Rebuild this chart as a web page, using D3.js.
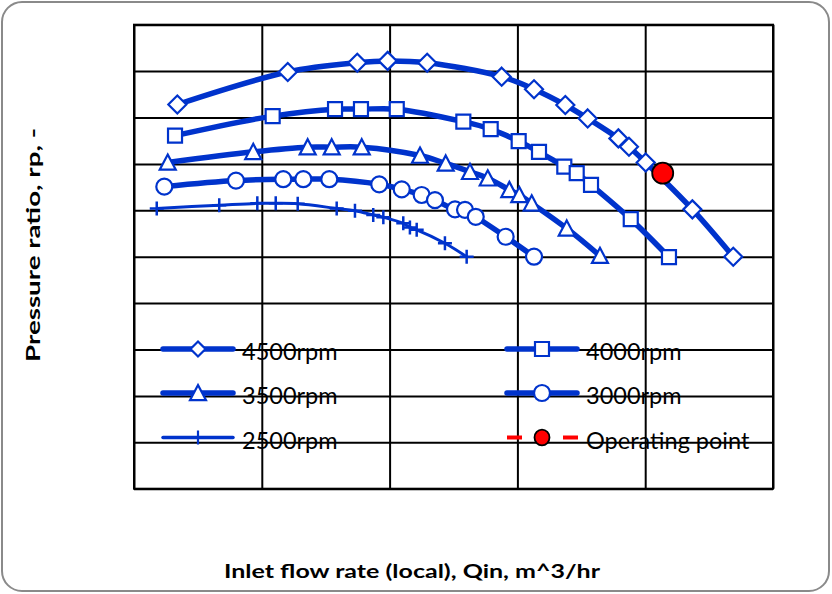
<!DOCTYPE html>
<html>
<head>
<meta charset="utf-8">
<script src="https://cdn.jsdelivr.net/npm/d3@7"></script>
<style>
  body { margin: 0; background: #fff; }
  svg { display: block; }
</style>
</head>
<body>
<div id="chart-area"></div>
<script>
// ---- data ----
const flow4500 = [33.9, 120.3, 174.7, 198.5, 229.4, 287.7, 313.0, 337.5, 355.0, 379.0, 387.3, 400.4, 436.9, 468.9];
const pr4500   = [1.828, 1.898, 1.918, 1.922, 1.918, 1.888, 1.861, 1.827, 1.798, 1.755, 1.737, 1.703, 1.602, 1.500];

const flow4000 = [32.1, 108.5, 157.3, 177.6, 205.6, 257.7, 279.1, 301.0, 316.9, 336.7, 346.4, 357.6, 388.7, 418.6];
const pr4000   = [1.761, 1.803, 1.818, 1.818, 1.818, 1.791, 1.775, 1.749, 1.726, 1.694, 1.680, 1.655, 1.581, 1.499];

const flow3500 = [26.4, 93.3, 135.9, 154.7, 178.2, 223.8, 243.9, 262.9, 276.8, 293.7, 301.5, 311.2, 338.6, 364.6];
const pr3500   = [1.703, 1.726, 1.736, 1.736, 1.736, 1.718, 1.701, 1.683, 1.669, 1.644, 1.633, 1.615, 1.561, 1.502];

const flow3000 = [23.7, 79.8, 116.8, 132.5, 152.8, 191.9, 209.5, 225.1, 235.5, 251.2, 259.0, 267.4, 290.8, 313.0];
const pr3000   = [1.651, 1.664, 1.667, 1.667, 1.667, 1.656, 1.645, 1.633, 1.622, 1.602, 1.601, 1.586, 1.543, 1.500];

const flow2500 = [17.8, 66.7, 96.5, 110.9, 128.1, 158.6, 172.9, 187.2, 195.1, 210.7, 215.9, 221.2, 243.3, 260.3];
const pr2500   = [1.604, 1.611, 1.615, 1.615, 1.614, 1.604, 1.599, 1.590, 1.585, 1.572, 1.563, 1.558, 1.529, 1.500];

const opFlow = [413.7];
const opPr   = [1.680];

const seriesNames = ["4500rpm", "4000rpm", "3500rpm", "3000rpm", "2500rpm", "Operating point"];

// ---- layout ----
const WIDTH = 832, HEIGHT = 594;
const PLOT = { LEFT: 134, RIGHT: 773, TOP: 24.7, BOTTOM: 488.7 };
const BLUE = "#0033cc";

const svg = d3.select("#chart-area")
  .append("svg")
    .attr("width", WIDTH)
    .attr("height", HEIGHT);

// chart frame
svg.append("rect")
  .attr("x", 2).attr("y", 2)
  .attr("width", WIDTH - 5).attr("height", HEIGHT - 5)
  .attr("rx", 20).attr("ry", 20)
  .attr("fill", "#fff")
  .attr("stroke", "#8a8a8a")
  .attr("stroke-width", 2);

// scales
const x = d3.scaleLinear().domain([0, 500]).range([PLOT.LEFT, PLOT.RIGHT]);
const y = d3.scaleLinear().domain([1.0, 2.0]).range([PLOT.BOTTOM, PLOT.TOP]);

// gridlines via axes, no labels shown
const g = svg.append("g");
g.append("g")
  .attr("transform", `translate(0, ${PLOT.BOTTOM})`)
  .call(d3.axisBottom(x).ticks(5).tickSize(-(PLOT.BOTTOM - PLOT.TOP)).tickFormat(""))
  .call(a => a.select(".domain").remove())
  .selectAll("line").attr("stroke", "#000").attr("stroke-width", 2);

g.append("g")
  .attr("transform", `translate(${PLOT.LEFT}, 0)`)
  .call(d3.axisLeft(y).ticks(10).tickSize(-(PLOT.RIGHT - PLOT.LEFT)).tickFormat(""))
  .call(a => a.select(".domain").remove())
  .selectAll("line").attr("stroke", "#000").attr("stroke-width", 2);

g.append("rect")
  .attr("x", PLOT.LEFT).attr("y", PLOT.TOP)
  .attr("width", PLOT.RIGHT - PLOT.LEFT).attr("height", PLOT.BOTTOM - PLOT.TOP)
  .attr("fill", "none").attr("stroke", "#000").attr("stroke-width", 2);

// marker shapes (centered on bbox like Excel markers)
const shapes = {
  diamond: s => `M0,${-s}L${s},0L0,${s}L${-s},0Z`,
  square: s => `M${-s},${-s}H${s}V${s}H${-s}Z`,
  triangle: s => `M0,${-s}L${s},${s * 0.9}H${-s}Z`,
  circle: s => `M${s},0A${s},${s} 0 1,1 ${-s},0A${s},${s} 0 1,1 ${s},0Z`,
  plus: s => `M${-s},0H${s}M0,${-s}V${s}`
};

const series = [
  { name: seriesNames[0], xs: flow4500, ys: pr4500, shape: "diamond", size: 9, width: 5.5 },
  { name: seriesNames[1], xs: flow4000, ys: pr4000, shape: "square", size: 7, width: 5.5 },
  { name: seriesNames[2], xs: flow3500, ys: pr3500, shape: "triangle", size: 8, width: 5.5 },
  { name: seriesNames[3], xs: flow3000, ys: pr3000, shape: "circle", size: 8, width: 5.5 },
  { name: seriesNames[4], xs: flow2500, ys: pr2500, shape: "plus", size: 7, width: 3 }
];

const line = d3.line()
  .x(d => x(d[0]))
  .y(d => y(d[1]))
  .curve(d3.curveCatmullRom);

// draw lines first so markers sit on top, smaller series drawn last like the source
series.slice().reverse().forEach(s => {
  const pts = s.xs.map((v, i) => [v, s.ys[i]]);
  const sg = svg.append("g");
  sg.append("path")
    .attr("d", line(pts))
    .attr("fill", "none")
    .attr("stroke", BLUE)
    .attr("stroke-width", s.width)
    .attr("stroke-linejoin", "round");
  sg.selectAll("path.mk")
    .data(pts)
    .enter()
    .append("path")
      .attr("class", "mk")
      .attr("transform", d => `translate(${x(d[0])}, ${y(d[1])})`)
      .attr("d", shapes[s.shape](s.size))
      .attr("fill", s.shape === "plus" ? "none" : "#fff")
      .attr("stroke", BLUE)
      .attr("stroke-width", s.shape === "plus" ? 2.5 : 2.2);
});

// operating point
svg.append("g").selectAll("circle")
  .data(opFlow.map((v, i) => [v, opPr[i]]))
  .enter()
  .append("circle")
    .attr("cx", d => x(d[0]))
    .attr("cy", d => y(d[1]))
    .attr("r", 10.5)
    .attr("fill", "#ff0000")
    .attr("stroke", "#000")
    .attr("stroke-width", 1.8);

// legend (sits inside the plot area)
const legendPos = [
  [163, 349], [507, 349],
  [163, 393], [507, 393],
  [163, 437.5], [507, 437.5]
];
const legendItems = [series[0], series[1], series[2], series[3], series[4], { name: seriesNames[5], op: true }];
const lg = svg.append("g").attr("font-family", "Lato, 'Open Sans', sans-serif");
legendItems.forEach((it, i) => {
  const [lx, ly] = legendPos[i];
  const item = lg.append("g").attr("transform", `translate(${lx}, ${ly})`);
  if (it.op) {
    item.append("line").attr("x1", 0).attr("x2", 15).attr("stroke", "#ff0000").attr("stroke-width", 4);
    item.append("line").attr("x1", 56).attr("x2", 71).attr("stroke", "#ff0000").attr("stroke-width", 4);
    item.append("ellipse").attr("cx", 35).attr("rx", 7.5).attr("ry", 7.8)
      .attr("fill", "#ff0000").attr("stroke", "#000").attr("stroke-width", 1.8);
  } else {
    item.append("line").attr("x1", 0).attr("x2", 70)
      .attr("stroke", BLUE).attr("stroke-width", it.shape === "plus" ? 3.5 : it.width)
      .attr("stroke-linecap", "round");
    item.append("path")
      .attr("transform", "translate(35, 0)")
      .attr("d", shapes[it.shape](it.shape === "diamond" ? 7.5 : it.size))
      .attr("fill", it.shape === "plus" ? "none" : "#fff")
      .attr("stroke", BLUE)
      .attr("stroke-width", 2.2);
  }
  item.append("text")
    .attr("x", 79)
    .attr("y", 11)
    .attr("font-size", "23.5px")
    .attr("fill", "#000")
    .text(it.name);
});

// axis titles
svg.append("text")
  .attr("x", 412)
  .attr("y", 578)
  .attr("text-anchor", "middle")
  .attr("font-family", "Lato, 'Open Sans', sans-serif")
  .attr("font-weight", "bold")
  .attr("font-size", "19px")
  .attr("textLength", 376)
  .attr("lengthAdjust", "spacingAndGlyphs")
  .text("Inlet flow rate (local), Qin, m^3/hr");

svg.append("text")
  .attr("transform", "translate(40, 245) rotate(-90)")
  .attr("text-anchor", "middle")
  .attr("font-family", "Lato, 'Open Sans', sans-serif")
  .attr("font-weight", "bold")
  .attr("font-size", "19px")
  .attr("textLength", 234)
  .attr("lengthAdjust", "spacingAndGlyphs")
  .text("Pressure ratio, rp, -");
</script>
</body>
</html>
